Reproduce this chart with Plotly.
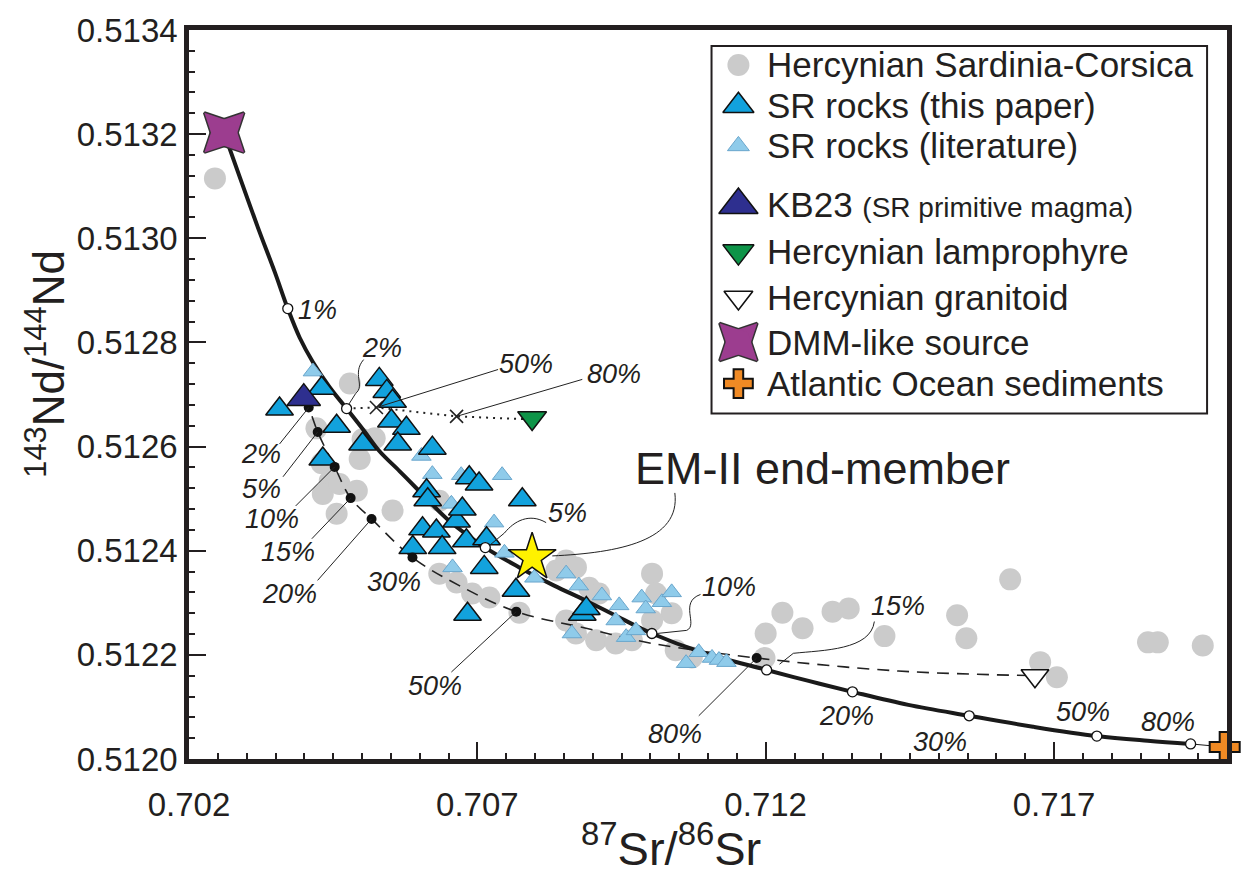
import plotly.graph_objects as go

FONT = "Liberation Sans, Arial, Helvetica, sans-serif"
INK = "#231f20"

# ------------------------------------------------------------------ data
# Hercynian Sardinia-Corsica (grey circles)
herc_sr = [0.70245, 0.70479, 0.70421, 0.70430, 0.70501, 0.70496, 0.70522, 0.70444, 0.70432, 0.70461,
           0.70491, 0.70456, 0.70553, 0.70634, 0.70634, 0.70664, 0.70691, 0.70721, 0.70773, 0.70837,
           0.70854, 0.70871, 0.70894, 0.70911, 0.70854, 0.70871, 0.70906, 0.70940, 0.70968, 0.71003,
           0.71010, 0.71037, 0.71003, 0.71044, 0.71072, 0.71200, 0.71229, 0.71264, 0.71198, 0.71316,
           0.71344, 0.71406, 0.71532, 0.71548, 0.71624, 0.71676, 0.71705, 0.71863, 0.71880, 0.71958]
herc_nd = [0.513115, 0.512721, 0.512635, 0.512568, 0.512614, 0.512576, 0.512616, 0.512534, 0.512509, 0.512528,
           0.512515, 0.512471, 0.512477, 0.512496, 0.512356, 0.512339, 0.512318, 0.512310, 0.512281, 0.512362,
           0.512381, 0.512368, 0.512329, 0.512318, 0.512266, 0.512241, 0.512228, 0.512222, 0.512228, 0.512356,
           0.512318, 0.512280, 0.512266, 0.512209, 0.512195, 0.512241, 0.512281, 0.512251, 0.512194, 0.512283,
           0.512289, 0.512236, 0.512276, 0.512232, 0.512345, 0.512186, 0.512157, 0.512224, 0.512224, 0.512218]

# SR rocks (this paper)
srp_sr = [0.70357, 0.70430, 0.70530, 0.70543, 0.70553, 0.70551, 0.70577, 0.70456, 0.70501, 0.70562,
          0.70622, 0.70432, 0.70612, 0.70614, 0.70686, 0.70703, 0.70778, 0.70605, 0.70629, 0.70664,
          0.70674, 0.70588, 0.70639, 0.70681, 0.70716, 0.70712, 0.70767, 0.70683, 0.70882, 0.70889]
srp_nd = [0.512672, 0.512712, 0.512729, 0.512706, 0.512687, 0.512649, 0.512635, 0.512639, 0.512605, 0.512605,
          0.512597, 0.512576, 0.512515, 0.512498, 0.512540, 0.512528, 0.512498, 0.512442, 0.512438, 0.512457,
          0.512480, 0.512406, 0.512406, 0.512419, 0.512423, 0.512368, 0.512324, 0.512278, 0.512278, 0.512289]

# SR rocks (literature)
srl_sr = [0.70415, 0.70603, 0.70622, 0.70672, 0.70743, 0.70655, 0.70729, 0.70657, 0.70747, 0.70799,
          0.70854, 0.70876, 0.70916, 0.70946, 0.70985, 0.70992, 0.71020, 0.71037, 0.70940, 0.70958,
          0.70975, 0.70864, 0.71084, 0.71062, 0.71107, 0.71119, 0.71132, 0.70894]
srl_nd = [0.512744, 0.512582, 0.512547, 0.512545, 0.512545, 0.512490, 0.512454, 0.512368, 0.512396, 0.512348,
          0.512356, 0.512333, 0.512314, 0.512295, 0.512310, 0.512289, 0.512301, 0.512320, 0.512266, 0.512234,
          0.512247, 0.512241, 0.512205, 0.512184, 0.512194, 0.512190, 0.512186, 0.512285]

# single samples / end-members
kb23_sr, kb23_nd = [0.70399], [0.512693]
lamp_sr, lamp_nd = [0.70795], [0.512655]
gran_sr, gran_nd = [0.71667], [0.512160]
dmm_sr, dmm_nd = [0.70261], [0.513203]
atl_sr, atl_nd = [0.71996], [0.512023]
em2_sr, em2_nd = [0.70795], [0.512387]

# DMM -> Atlantic sediment mixing curve (solid)
mixa_sr = [0.702606, 0.702882, 0.703194, 0.703488, 0.703713, 0.703920, 0.704145, 0.704439, 0.704733, 0.705045,
           0.705304, 0.705650, 0.705944, 0.706516, 0.707138, 0.707727, 0.708332, 0.708886, 0.709457, 0.710027,
           0.710892, 0.712017, 0.712744, 0.713505, 0.714474, 0.715529, 0.716636, 0.717743, 0.718625, 0.719369]
mixa_nd = [0.513203, 0.513117, 0.513021, 0.512935, 0.512865, 0.512809, 0.512763, 0.512714, 0.512673, 0.512629,
           0.512591, 0.512553, 0.512520, 0.512457, 0.512406, 0.512368, 0.512333, 0.512304, 0.512272, 0.512241,
           0.512205, 0.512171, 0.512150, 0.512129, 0.512104, 0.512083, 0.512062, 0.512044, 0.512035, 0.512029]
mixa_tail_sr = [0.719369, 0.71996]
mixa_tail_nd = [0.512029, 0.512023]
mixa_pct = ["1%", "2%", "5%", "10%", "15%", "20%", "30%", "50%", "80%"]
mixa_pct_sr = [0.703713, 0.704733, 0.707138, 0.710027, 0.712017, 0.713505, 0.715529, 0.717743, 0.719369]
mixa_pct_nd = [0.512865, 0.512673, 0.512406, 0.512241, 0.512171, 0.512129, 0.512083, 0.512044, 0.512029]
mixa_lab_sr = [0.70423, 0.70534, 0.70857, 0.71136, 0.71430, 0.71340, 0.71503, 0.71750, 0.71897]
mixa_lab_nd = [0.512863, 0.512790, 0.512473, 0.512330, 0.512293, 0.512083, 0.512033, 0.512090, 0.512071]

# KB23 -> Hercynian granitoid mixing curve (dashed)
mixb_sr = [0.70399, 0.704076, 0.704232, 0.704526, 0.704803, 0.705166, 0.705875, 0.706688, 0.707675, 0.708886,
           0.710027, 0.711844, 0.714301, 0.716671]
mixb_nd = [0.512693, 0.512675, 0.512628, 0.512561, 0.512501, 0.512461, 0.512387, 0.512333, 0.512283, 0.512251,
           0.512222, 0.512194, 0.512169, 0.512160]
mixb_pct = ["2%", "5%", "10%", "15%", "20%", "30%", "50%", "80%"]
mixb_pct_sr = [0.704076, 0.704232, 0.704526, 0.704803, 0.705166, 0.705875, 0.707675, 0.711844]
mixb_pct_nd = [0.512675, 0.512628, 0.512561, 0.512501, 0.512461, 0.512387, 0.512283, 0.512194]
mixb_lab_sr = [0.70325, 0.70326, 0.70344, 0.70371, 0.70375, 0.70556, 0.70626, 0.71043]
mixb_lab_nd = [0.512585, 0.512519, 0.512461, 0.512398, 0.512316, 0.512339, 0.512140, 0.512048]
mixb_lead_from_sr = [0.70357, 0.70363, 0.70385, 0.70413, 0.70423, None, 0.70655, 0.71084]
mixb_lead_from_nd = [0.512605, 0.512542, 0.512486, 0.512423, 0.512343, None, 0.512167, 0.512083]

# 2% mix -> Hercynian lamprophyre mixing line (dotted)
mixc_sr = [0.704733, 0.70525, 0.70664, 0.70795]
mixc_nd = [0.512673, 0.512675, 0.512658, 0.512652]
mixc_pct = ["50%", "80%"]
mixc_pct_sr = [0.70525, 0.70664]
mixc_pct_nd = [0.512675, 0.512658]
mixc_lab_sr = [0.70785, 0.70937]
mixc_lab_nd = [0.512758, 0.512740]
mixc_lead_from_sr = [0.70736, 0.70882]
mixc_lead_from_nd = [0.512748, 0.512729]

# curved hand-drawn leaders (data coordinates): start, c1, c2, end, tip
curved_leaders = [
    [(0.705028, 0.512767), (0.70482, 0.512740), (0.70506, 0.512717), (0.70489, 0.512702), (0.70477, 0.512681)],
    [(0.708193, 0.512454), (0.70790, 0.512473), (0.70764, 0.512457), (0.70747, 0.512434), (0.70722, 0.512411)],
    [(0.71087, 0.512316), (0.71049, 0.512301), (0.71084, 0.512257), (0.71063, 0.512247), (0.71011, 0.512241)],
    [(0.713885, 0.512264), (0.71382, 0.512209), (0.71300, 0.512209), (0.71248, 0.512203), (0.71224, 0.512182)],
    [(0.710425, 0.512511), (0.71053, 0.512419), (0.70946, 0.512396), (0.70830, 0.512390), (0.70830, 0.512390)],
]
em2_label_sr, em2_label_nd = 0.71299, 0.512557

legend_labels = ["Hercynian Sardinia-Corsica", "SR rocks (this paper)", "SR rocks (literature)",
                 "KB23 <span style='font-size:28px'>(SR primitive magma)</span>", "Hercynian lamprophyre",
                 "Hercynian granitoid", "DMM-like source", "Atlantic Ocean sediments"]

# ------------------------------------------------------------------ styles
STY = {
    "herc": dict(symbol="circle", size=22, color="#cbcbcb", line=dict(width=0)),
    "srp": dict(symbol="triangle-up", size=24, color="#12a2dd", line=dict(color="#111", width=1.5)),
    "srl": dict(symbol="triangle-up", size=17, color="#8fcbea", line=dict(color="#6aa6cc", width=1)),
    "kb23": dict(symbol="triangle-up", size=29, color="#2e2f8f", line=dict(color="#111", width=1.5)),
    "lamp": dict(symbol="triangle-down", size=25, color="#0e9448", line=dict(color="#111", width=1.5)),
    "gran": dict(symbol="triangle-down", size=24, color="white", line=dict(color="#111", width=1.6)),
    "atl": dict(symbol="cross", size=25, color="#f08a24", line=dict(color="#111", width=2)),
    "em2": dict(symbol="star", size=36, color="#fff200", line=dict(color="#111", width=1.5)),
}
DMM_FILL, DMM_EDGE, DMM_SIZE = "#9c3d8f", "#333", 40

fig = go.Figure()


def pts(x, y, key, clip=True):
    fig.add_trace(go.Scatter(x=x, y=y, mode="markers", marker=STY[key], showlegend=False,
                             hoverinfo="skip", cliponaxis=clip))


def four_point_star(x, y, size, xaxis="x", yaxis="y"):
    # union of a tall and a wide diamond, turned 45 degrees: outlines first, fills on top
    for with_edge in (True, False):
        for sym in ("diamond-tall", "diamond-wide"):
            fig.add_trace(go.Scatter(
                x=x, y=y, xaxis=xaxis, yaxis=yaxis, mode="markers", showlegend=False, hoverinfo="skip",
                cliponaxis=False,
                marker=dict(symbol=sym, angle=45, size=size, color=DMM_FILL,
                            line=dict(color=DMM_EDGE, width=3 if with_edge else 0))))


pts(herc_sr, herc_nd, "herc")
# mixing curves
fig.add_trace(go.Scatter(x=mixb_sr, y=mixb_nd, mode="lines", line=dict(color="#222", width=1.6, dash="12px,8px", shape="spline"),
                         showlegend=False, hoverinfo="skip"))
fig.add_trace(go.Scatter(x=mixc_sr, y=mixc_nd, mode="lines", line=dict(color="#222", width=2, dash="2px,5px"),
                         showlegend=False, hoverinfo="skip"))
fig.add_trace(go.Scatter(x=mixa_sr, y=mixa_nd, mode="lines", line=dict(color="#1a1a1a", width=4, shape="spline"),
                         showlegend=False, hoverinfo="skip"))
fig.add_trace(go.Scatter(x=mixa_tail_sr, y=mixa_tail_nd, mode="lines", line=dict(color="#1a1a1a", width=1),
                         showlegend=False, hoverinfo="skip", cliponaxis=False))
pts(srl_sr, srl_nd, "srl")
pts(srp_sr, srp_nd, "srp")
# percentage ticks
fig.add_trace(go.Scatter(x=mixb_pct_sr, y=mixb_pct_nd, mode="markers",
                         marker=dict(symbol="circle", size=10, color="#111"), showlegend=False, hoverinfo="skip"))
fig.add_trace(go.Scatter(x=mixc_pct_sr, y=mixc_pct_nd, mode="markers",
                         marker=dict(symbol="x-thin", size=13, line=dict(color="#222", width=1.6)),
                         showlegend=False, hoverinfo="skip"))
pts(kb23_sr, kb23_nd, "kb23")
fig.add_trace(go.Scatter(x=mixa_pct_sr, y=mixa_pct_nd, mode="markers",
                         marker=dict(symbol="circle", size=10, color="white", line=dict(color="#111", width=1.3)),
                         showlegend=False, hoverinfo="skip"))
pts(lamp_sr, lamp_nd, "lamp")
pts(gran_sr, gran_nd, "gran")
pts(em2_sr, em2_nd, "em2")
four_point_star(dmm_sr, dmm_nd, DMM_SIZE)
pts(atl_sr, atl_nd, "atl", clip=False)

# ------------------------------------------------------------------ labels & leaders
ann = []
shapes = []
PCT_FONT = dict(family=FONT, size=27, color=INK)


def pct_label(x, y, t):
    ann.append(dict(x=x, y=y, xref="x", yref="y", text="<i>%s</i>" % t, showarrow=False,
                    font=PCT_FONT, xanchor="center", yanchor="middle"))


for t, x, y in zip(mixa_pct, mixa_lab_sr, mixa_lab_nd):
    pct_label(x, y, t)
for t, x, y in zip(mixb_pct, mixb_lab_sr, mixb_lab_nd):
    pct_label(x, y, t)
for t, x, y in zip(mixc_pct, mixc_lab_sr, mixc_lab_nd):
    pct_label(x, y, t)

LEAD = dict(color="#222", width=1)
for x0, y0, x1, y1 in zip(mixb_lead_from_sr, mixb_lead_from_nd, mixb_pct_sr, mixb_pct_nd):
    if x0 is not None:
        shapes.append(dict(type="line", xref="x", yref="y", x0=x0, y0=y0, x1=x1, y1=y1, line=LEAD))
for x0, y0, x1, y1 in zip(mixc_lead_from_sr, mixc_lead_from_nd, mixc_pct_sr, mixc_pct_nd):
    shapes.append(dict(type="line", xref="x", yref="y", x0=x0, y0=y0, x1=x1, y1=y1, line=LEAD))
for (p0, c1, c2, p1, p2) in curved_leaders:
    path = "M %f,%f C %f,%f %f,%f %f,%f L %f,%f" % (p0[0], p0[1], c1[0], c1[1], c2[0], c2[1], p1[0], p1[1], p2[0], p2[1])
    shapes.append(dict(type="path", xref="x", yref="y", path=path, line=LEAD))

ann.append(dict(x=em2_label_sr, y=em2_label_nd, xref="x", yref="y", text="EM-II end-member", showarrow=False,
                font=dict(family=FONT, size=45, color=INK), xanchor="center", yanchor="middle"))

# axis titles
ann.append(dict(x=0.464, y=-0.118, xref="paper", yref="paper", text="<sup>87</sup>Sr/<sup>86</sup>Sr",
                showarrow=False, font=dict(family=FONT, size=47, color=INK), xanchor="center", yanchor="middle"))
ann.append(dict(x=-0.138, y=0.542, xref="paper", yref="paper", text="<sup>143</sup>Nd/<sup>144</sup>Nd",
                showarrow=False, textangle=-90, font=dict(family=FONT, size=44, color=INK),
                xanchor="center", yanchor="middle"))

# ------------------------------------------------------------------ legend (drawn on an overlay axis, 0..1)
LEG_MARK_X = 0.5293
LEG_TEXT_X = 0.5552
LEG_ROWS = [0.9520, 0.8960, 0.8410, 0.7600, 0.6960, 0.6330, 0.5720, 0.5150]
LEG_KEYS = ["herc", "srp", "srl", "kb23", "lamp", "gran", "dmm", "atl"]
LEG_SIZE = {"herc": 22, "srp": 27, "srl": 19, "kb23": 34, "lamp": 27, "gran": 25, "dmm": 38, "atl": 24}
for key, row, lab in zip(LEG_KEYS, LEG_ROWS, legend_labels):
    if key == "dmm":
        four_point_star([LEG_MARK_X], [row], LEG_SIZE[key], xaxis="x2", yaxis="y2")
    else:
        m = dict(STY[key])
        m["size"] = LEG_SIZE[key]
        fig.add_trace(go.Scatter(x=[LEG_MARK_X], y=[row], xaxis="x2", yaxis="y2", mode="markers", marker=m,
                                 showlegend=False, hoverinfo="skip", cliponaxis=False))
    ann.append(dict(x=LEG_TEXT_X, y=row, xref="paper", yref="paper", text=lab, showarrow=False,
                    font=dict(family=FONT, size=35, color=INK), xanchor="left", yanchor="middle"))
shapes.append(dict(type="rect", xref="paper", yref="paper", x0=0.5034, x1=0.9808, y0=0.474, y1=0.9781,
                   line=dict(color=INK, width=2), fillcolor="rgba(0,0,0,0)", layer="below"))

# ------------------------------------------------------------------ layout
axis_common = dict(showline=True, linewidth=4.5, linecolor=INK, mirror=True, showgrid=False, zeroline=False,
                   ticks="inside", ticklen=17, tickwidth=1.5, tickcolor=INK,
                   tickfont=dict(family=FONT, size=33, color=INK))
fig.update_layout(
    width=1244, height=879,
    margin=dict(l=189, r=14, t=27, b=120),
    paper_bgcolor="white", plot_bgcolor="white",
    xaxis=dict(range=[0.702, 0.720], tickmode="linear", tick0=0.702, dtick=0.005, tickformat=".3f",
               minor=dict(ticks="inside", tick0=0.702, dtick=0.0005, ticklen=6, tickwidth=1.5, tickcolor=INK),
               ticklabelstandoff=13, **axis_common),
    yaxis=dict(range=[0.5120, 0.5134], tickmode="linear", tick0=0.5120, dtick=0.0002, tickformat=".4f",
               minor=dict(ticks="inside", tick0=0.5120, dtick=0.00004, ticklen=6, tickwidth=1.5, tickcolor=INK),
               ticklabelstandoff=0, **axis_common),
    xaxis2=dict(overlaying="x", range=[0, 1], visible=False, fixedrange=True),
    yaxis2=dict(overlaying="y", range=[0, 1], visible=False, fixedrange=True),
    annotations=ann,
    shapes=shapes,
    font=dict(family=FONT, color=INK),
)

fig.write_html("out.html", config={"displayModeBar": False})
